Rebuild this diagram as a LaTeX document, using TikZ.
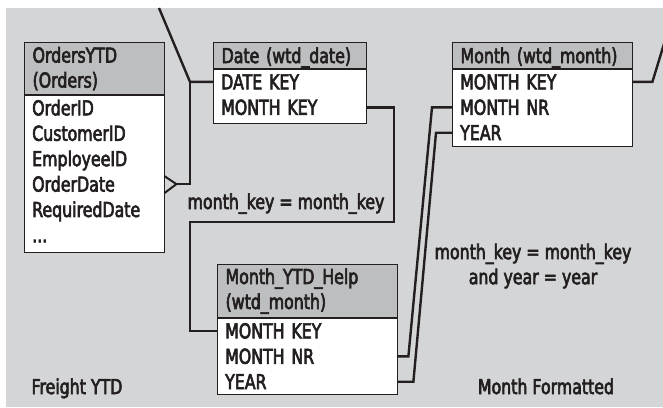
\documentclass[tikz,border=0pt]{standalone}
\usepackage{fontspec}
\setmainfont{DejaVu Sans}[FakeStretch=0.77, FakeBold=3]
\usepackage{tikz}
\usetikzlibrary{calc,positioning}

\definecolor{bggray}{RGB}{212,213,215}
\definecolor{headgray}{RGB}{189,190,192}
\definecolor{inkdark}{RGB}{35,31,32}

\begin{document}
\begin{tikzpicture}[x=1pt, y=-1pt,
    every node/.style={font=\fontsize{20.5}{25}\selectfont, text=inkdark},
    tblhead/.style={draw=inkdark, line width=1.2pt, fill=headgray, anchor=north west,
      align=left, inner xsep=8pt, inner ysep=0pt, text width=#1},
    onehead/.style={tblhead=#1, minimum height=26pt, text height=14.9pt, text depth=0pt},
    tblbody/.style 2 args={draw=inkdark, line width=1.2pt, fill=white, anchor=north west,
      inner sep=0pt, minimum width=#1, minimum height=#2},
    tblrow/.style={anchor=north west, align=left, inner xsep=8pt, inner ysep=0pt,
      minimum height=25pt, text height=14.9pt, text depth=0pt, text width=#1},
    link/.style={draw=inkdark, line width=2.4pt}]
    \useasboundingbox (0,0) rectangle (663,407);
    \clip (0,0) rectangle (663,407);

    % background
    \fill[bggray] (6,8) rectangle (663,407);

    % orders table
    \node[tblhead=124pt, minimum height=52pt] (orders) at (24,42) {OrdersYTD\\(Orders)};
    \node[tblbody={140pt}{157pt}] (ordersbody) at (orders.south west) {};
    \node[tblrow=124pt] (o1) at (ordersbody.north west) {OrderID};
    \node[tblrow=124pt, below=0pt of o1] (o2) {CustomerID};
    \node[tblrow=124pt, below=0pt of o2] (o3) {EmployeeID};
    \node[tblrow=124pt, below=0pt of o3] (o4) {OrderDate};
    \node[tblrow=124pt, below=0pt of o4] (o5) {RequiredDate};
    \node[tblrow=124pt, below=0pt of o5] (o6) {...};

    % date table
    \node[onehead=137pt] (date) at (213,42) {Date (wtd\_date)};
    \node[tblbody={153pt}{54pt}] (datebody) at (date.south west) {};
    \node[tblrow=137pt] (d1) at (datebody.north west) {DATE KEY};
    \node[tblrow=137pt, below=0pt of d1] (d2) {MONTH KEY};

    % month table
    \node[onehead=164pt] (month) at (452,42) {Month (wtd\_month)};
    \node[tblbody={180pt}{77pt}] (monthbody) at (month.south west) {};
    \node[tblrow=164pt] (m1) at (monthbody.north west) {MONTH KEY};
    \node[tblrow=164pt, below=0pt of m1] (m2) {MONTH NR};
    \node[tblrow=164pt, below=0pt of m2] (m3) {YEAR};

    % help table
    \node[tblhead=164pt, minimum height=53pt] (help) at (217,264) {Month\_YTD\_Help\\(wtd\_month)};
    \node[tblbody={180pt}{76pt}] (helpbody) at (help.south west) {};
    \node[tblrow=164pt] (h1) at (helpbody.north west) {MONTH KEY};
    \node[tblrow=164pt, below=0pt of h1] (h2) {MONTH NR};
    \node[tblrow=164pt, below=0pt of h2] (h3) {YEAR};

    % date to orders, with crow's foot
    \coordinate (topin) at (159,8);
    \coordinate (jdate) at ($(d1.west)+(-23,0)$);
    \coordinate (crow) at ($(o4.east)+(12,0)$);
    \draw[link] (topin) -- (jdate) -- (d1.west);
    \draw[link] (jdate) |- (crow);
    \draw[link, line width=2pt] ($(o4.east)+(0,-8)$) -- (crow) -- ($(o4.east)+(0,9)$);

    % month key join
    \coordinate (bendr) at (394,222);
    \coordinate (bendl) at (190,222);
    \draw[link] (d2.east) -| (bendr) -- (bendl) |- (h1.west);
    \node[anchor=base] (joinkey) at (286,209) {month\_key = month\_key};

    % month nr and year join
    \draw[link] (h2.east) -- ++(11,0) -- ($(m2.west)+(-20,0)$) -- (m2.west);
    \draw[link] (h3.east) -- ++(16,0) -- ($(m3.west)+(-16,0)$) -- (m3.west);
    \node[align=center] (joinyear) at (533,266) {month\_key = month\_key\\and year = year};

    % month to the right
    \coordinate (outr) at (667,34);
    \draw[link] (m1.east) -- ++(20,0) -- (outr);

    % captions
    \node[anchor=base west] (freight) at (28,394) {Freight YTD};
    \node[anchor=base] (monthfmt) at (546,394) {Month Formatted};
\end{tikzpicture}
\end{document}
